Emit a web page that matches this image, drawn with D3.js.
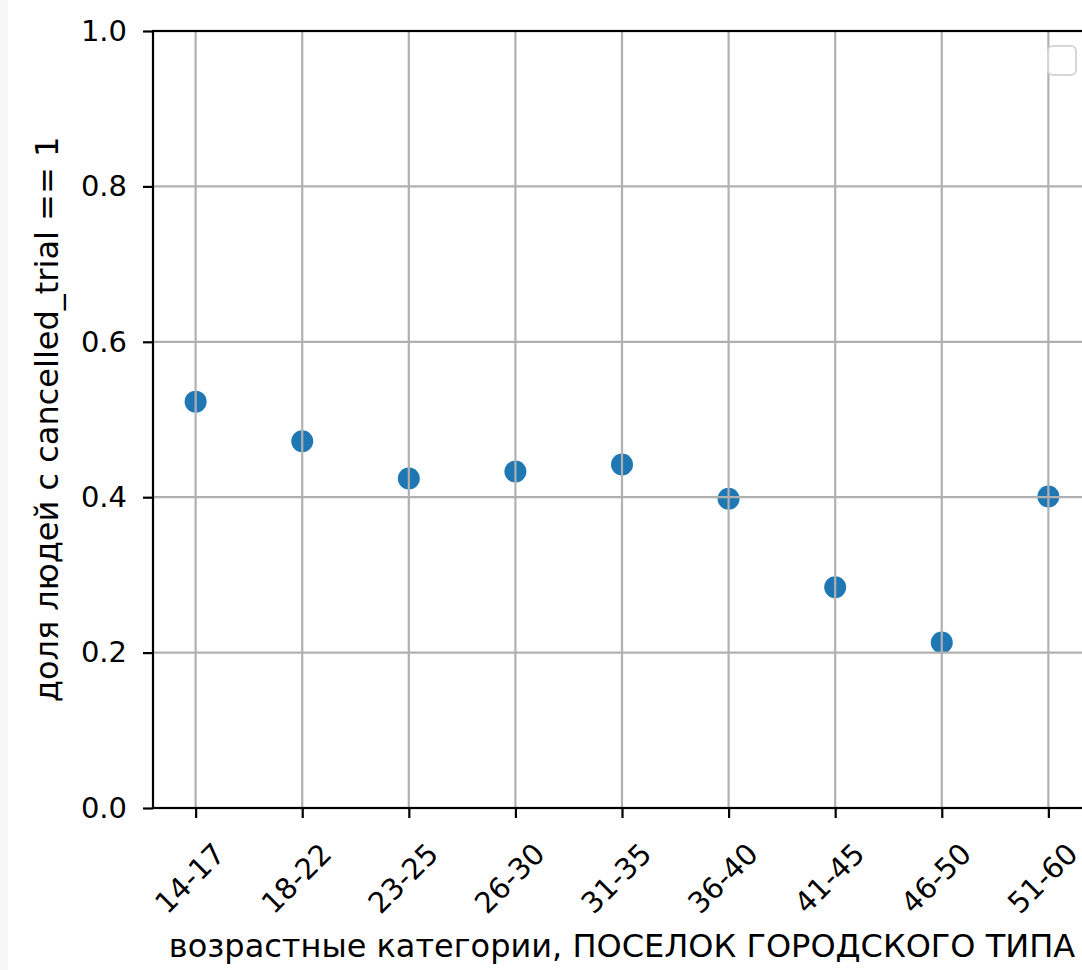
<!DOCTYPE html>
<html>
<head>
<meta charset="utf-8">
<script src="https://cdn.jsdelivr.net/npm/d3@7"></script>
<style>
  html, body { margin: 0; padding: 0; background: #fff; }
  svg { display: block; font-family: "DejaVu Sans", sans-serif; }
</style>
</head>
<body>
<script>
// age groups and share of people with cancelled_trial == 1
const categories = ["14-17", "18-22", "23-25", "26-30", "31-35", "36-40", "41-45", "46-50", "51-60"];
const shares = [0.523, 0.472, 0.424, 0.433, 0.442, 0.398, 0.284, 0.213, 0.401];
const yTicks = [0.0, 0.2, 0.4, 0.6, 0.8, 1.0];

const xTitle = "возрастные категории, ПОСЕЛОК ГОРОДСКОГО ТИПА";
const yTitle = "доля людей с cancelled_trial == 1";

function drawChart() {
  const W = 1082, H = 970;
  const plot = { left: 153, right: 1091, top: 31, bottom: 808 };
  const tickFont = 29;
  const titleFont = 32;

  const svg = d3.select("body").append("svg")
    .attr("width", W)
    .attr("height", H);

  svg.append("rect").attr("width", W).attr("height", H).attr("fill", "#fff");
  // notebook output strip on the left
  svg.append("rect").attr("width", 8).attr("height", H).attr("fill", "#f7f7f7");

  const x = d3.scalePoint()
    .domain(categories)
    .range([plot.left, plot.right])
    .padding(0.4);

  const y = d3.scaleLinear()
    .domain([0, 1])
    .range([plot.bottom, plot.top]);

  const data = categories.map((c, i) => ({ cat: c, value: shares[i] }));

  // points (grid is drawn over them, like matplotlib)
  svg.append("g")
    .selectAll("circle")
    .data(data)
    .enter()
    .append("circle")
    .attr("cx", d => x(d.cat))
    .attr("cy", d => y(d.value))
    .attr("r", 11)
    .attr("fill", "#1f77b4");

  // grid
  const grid = svg.append("g")
    .attr("stroke", "#b0b0b0")
    .attr("stroke-width", 2.2);

  grid.selectAll(".vgrid")
    .data(categories)
    .enter()
    .append("line")
    .attr("x1", d => x(d)).attr("x2", d => x(d))
    .attr("y1", plot.top).attr("y2", plot.bottom);

  grid.selectAll(".hgrid")
    .data(yTicks)
    .enter()
    .append("line")
    .attr("x1", plot.left).attr("x2", plot.right)
    .attr("y1", d => y(d)).attr("y2", d => y(d));

  // y axis
  const yAxis = svg.append("g")
    .attr("transform", `translate(${plot.left},0)`)
    .call(d3.axisLeft(y).tickValues(yTicks).tickFormat(d3.format(".1f")).tickSize(10).tickPadding(16));
  yAxis.select(".domain").remove();
  yAxis.selectAll(".tick line").attr("stroke", "#000").attr("stroke-width", 2.2);
  yAxis.selectAll(".tick text")
    .attr("fill", "#000")
    .style("font-size", tickFont + "px")
    .style("font-family", "DejaVu Sans");

  // x axis ticks
  const xAxis = svg.append("g")
    .attr("transform", `translate(0,${plot.bottom})`)
    .call(d3.axisBottom(x).tickSize(10).tickFormat(""));
  xAxis.select(".domain").remove();
  xAxis.selectAll(".tick line").attr("stroke", "#000").attr("stroke-width", 2.2);

  // rotated x tick labels
  svg.append("g")
    .selectAll("text")
    .data(categories)
    .enter()
    .append("text")
    .attr("transform", d => `translate(${x(d) - 6},878) rotate(-45)`)
    .attr("text-anchor", "middle")
    .attr("dy", "0.36em")
    .style("font-size", tickFont + "px")
    .attr("fill", "#000")
    .text(d => d);

  // spines
  svg.append("rect")
    .attr("x", plot.left)
    .attr("y", plot.top)
    .attr("width", plot.right - plot.left)
    .attr("height", plot.bottom - plot.top)
    .attr("stroke", "#000")
    .attr("stroke-width", 2.2)
    .attr("fill", "none");

  // empty legend frame (upper right)
  svg.append("rect")
    .attr("x", 1048)
    .attr("y", 46)
    .attr("width", 28)
    .attr("height", 29)
    .attr("rx", 5)
    .attr("fill", "#fff")
    .attr("fill-opacity", 0.8)
    .attr("stroke", "#d6d6d6")
    .attr("stroke-width", 2);

  // axis titles
  svg.append("text")
    .attr("x", (plot.left + plot.right) / 2)
    .attr("y", 957)
    .attr("text-anchor", "middle")
    .style("font-size", titleFont + "px")
    .attr("fill", "#000")
    .text(xTitle);

  svg.append("text")
    .attr("transform", `translate(58,${(plot.top + plot.bottom) / 2}) rotate(-90)`)
    .attr("text-anchor", "middle")
    .style("font-size", titleFont + "px")
    .attr("fill", "#000")
    .text(yTitle);
}

window.onload = drawChart;
</script>
</body>
</html>
